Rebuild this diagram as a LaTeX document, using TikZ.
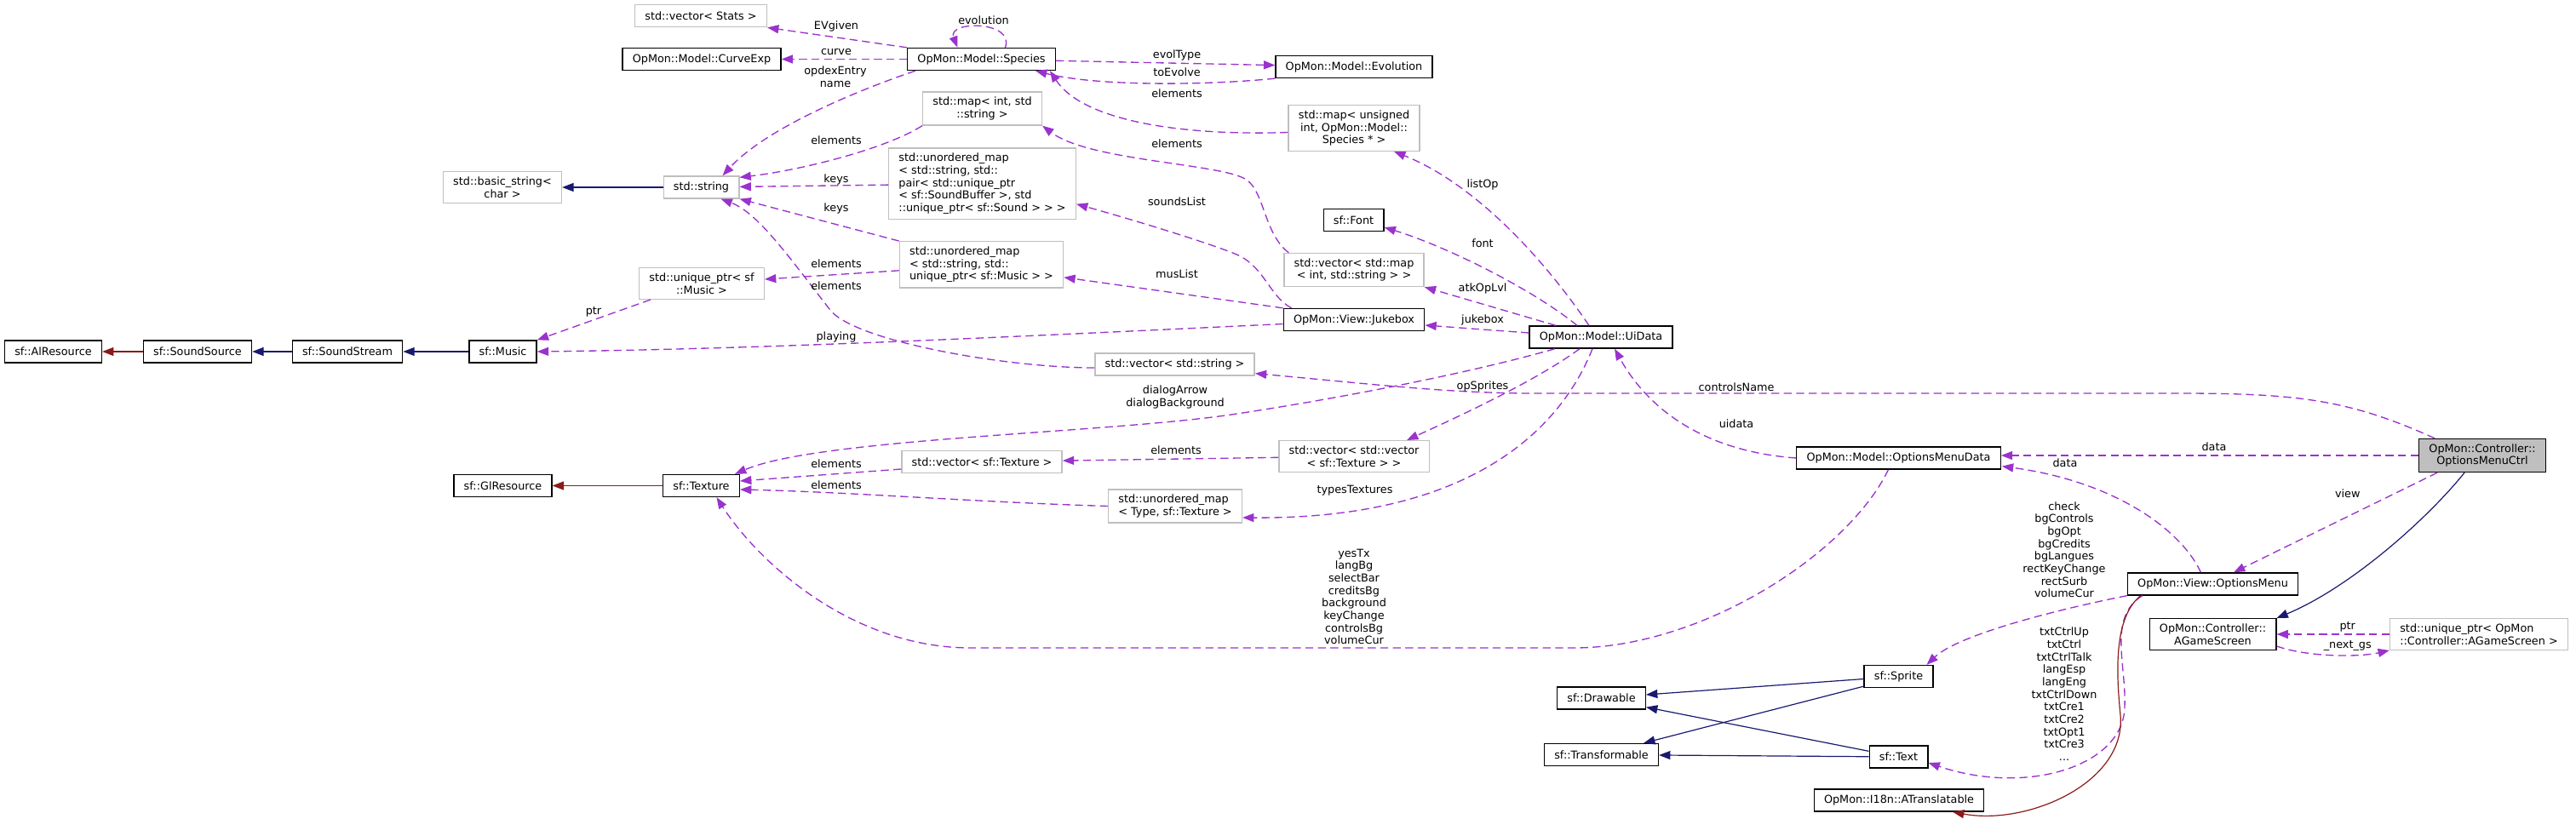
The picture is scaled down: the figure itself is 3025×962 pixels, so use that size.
\documentclass[tikz,border=0pt]{standalone}
\usepackage{fontspec}
\setmainfont{DejaVu Sans}
\usepackage{tikz}
\usetikzlibrary{calc,arrows.meta}

\definecolor{usecol}{HTML}{9A32CD}
\definecolor{pubcol}{HTML}{191970}
\definecolor{privcol}{HTML}{8B1A1A}
\definecolor{boxgray}{HTML}{BFBFBF}
\newcommand{\dfont}{\fontsize{9.6}{11}\selectfont}

\tikzset{
  cls/.style={draw=black,line width=1pt,fill=white,inner xsep=8.8pt,inner ysep=4.5pt,minimum height=19.5pt,font=\dfont},
  ext/.style={cls,draw=boxgray},
  cur/.style={cls,fill=boxgray},
  use/.style={draw=usecol,line width=1pt,dash pattern=on 7pt off 4pt,-{Triangle[length=10pt,width=7.5pt,fill=usecol]}},
  pub/.style={draw=pubcol,line width=0.9pt,-{Triangle[length=10pt,width=7.5pt,fill=pubcol]}},
  priv/.style={draw=privcol,line width=0.9pt,-{Triangle[length=10pt,width=7.5pt,fill=privcol]}},
  lbl/.style={font=\dfont,align=center,inner sep=0pt}
}

\begin{document}
\begin{tikzpicture}[x=0.75pt,y=-0.75pt]
        % \draw[step=100,gray,thin] (0,0) grid (3025,962);
        \useasboundingbox (0,0) rectangle (3025,962);
        \node[ext] (stats) at (823,18.7) {std::vector< Stats >};
        \node[cls] (curve) at (824,69.5) {OpMon::Model::CurveExp};
        \node[cls] (species) at (1152.5,69.5) {OpMon::Model::Species};
        \node[cls] (evolution) at (1590,78.5) {OpMon::Model::Evolution};
        \node[ext,align=center] (mapstr) at (1153.5,127.5) {std::map< int, std\\::string >};
        \node[ext,align=center] (mapsp) at (1590,150.5) {std::map< unsigned\\int, OpMon::Model::\\Species * >};
        \node[ext,align=center] (basic) at (590,220) {std::basic\_string<\\char >};
        \node[ext] (stdstring) at (823.5,220) {std::string};
        \node[ext,align=left] (umsound) at (1153.5,215.7) {std::unordered\_map\\< std::string, std::\\pair< std::unique\_ptr\\< sf::SoundBuffer >, std\\::unique\_ptr< sf::Sound > > >};
        \node[cls] (sffont) at (1589.5,258.5) {sf::Font};
        \node[ext,align=left] (ummusic) at (1152.5,310.8) {std::unordered\_map\\< std::string, std::\\unique\_ptr< sf::Music > >};
        \node[ext,align=center] (vecmap) at (1590,317) {std::vector< std::map\\< int, std::string > >};
        \node[ext,align=center] (uptrmusic) at (824,333) {std::unique\_ptr< sf\\::Music >};
        \node[cls] (jukebox) at (1590,375.5) {OpMon::View::Jukebox};
        \node[cls] (uidata) at (1880,396) {OpMon::Model::UiData};
        \node[cls] (alres) at (62.5,413) {sf::AlResource};
        \node[cls] (soundsource) at (232,413) {sf::SoundSource};
        \node[cls] (soundstream) at (408,413) {sf::SoundStream};
        \node[cls] (music) at (590.5,413) {sf::Music};
        \node[ext] (vecstr) at (1379.5,428) {std::vector< std::string >};
        \node[ext,align=center] (vecvec) at (1590,536) {std::vector< std::vector\\< sf::Texture > >};
        \node[ext] (vectex) at (1153,542.5) {std::vector< sf::Texture >};
        \node[cls] (glres) at (590.5,570.5) {sf::GlResource};
        \node[cls] (texture) at (823.5,570.5) {sf::Texture};
        \node[ext,align=left] (umtype) at (1380,594.5) {std::unordered\_map\\< Type, sf::Texture >};
        \node[cur,align=center] (ctrl) at (2915,535) {OpMon::Controller::\\OptionsMenuCtrl};
        \node[cls] (omdata) at (2229.5,538) {OpMon::Model::OptionsMenuData};
        \node[cls] (omenu) at (2598.5,686) {OpMon::View::OptionsMenu};
        \node[cls,align=center] (agame) at (2598.5,745) {OpMon::Controller::\\AGameScreen};
        \node[ext,align=left] (uptrgame) at (2911,745) {std::unique\_ptr< OpMon\\::Controller::AGameScreen >};
        \node[cls] (sprite) at (2229.5,794.5) {sf::Sprite};
        \node[cls] (drawable) at (1880.5,820) {sf::Drawable};
        \node[cls] (transformable) at (1880.5,886.5) {sf::Transformable};
        \node[cls] (sftext) at (2229.5,889) {sf::Text};
        \node[cls] (atrans) at (2230,940) {OpMon::I18n::ATranslatable};
        % members
        \draw[use] (species.north west) -- (stats.south east);
        \draw[use] ($(species.north)+(28,0)$) .. controls (1192,24) and (1112,24) .. ($(species.north)+(-28,0)$);
        \draw[use] (species) -- (curve);
        \draw[use] ($(species.south west)+(10,0)$) .. controls (1010,105) and (900,150) .. ($(stdstring.north)+(25,0)$);
        \draw[use] (species) -- (evolution);
        \draw[use] (evolution.south west) .. controls (1420,100) and (1290,102) .. ($(species.south east)+(-24,0)$);
        \draw[use] ($(mapsp.west)+(0,5)$) .. controls (1380,160) and (1270,140) .. ($(species.south east)+(-7,0)$);
        \draw[use] (mapstr.south west) .. controls (1040,175) and (940,200) .. ($(stdstring.north east)+(0,2)$);
        \draw[use] (umsound) -- (stdstring);
        \draw[use] (ummusic.north west) -- (stdstring.south east);
        \draw[use] ($(vecstr.west)+(0,4)$) .. controls (1180,432) and (1000,400) .. (974,363) .. controls (925,300) and (890,250) .. ($(stdstring.south)+(23,0)$);
        \draw[use] ($(ummusic.west)+(0,7)$) -- ($(uptrmusic.east)+(0,-5)$);
        \draw[use] ($(uptrmusic.south west)+(14,0)$) -- (music.north east);
        \draw[use] ($(jukebox.west)+(0,5)$) .. controls (1200,395) and (900,410) .. (music.east);
        \draw[use] ($(jukebox.north west)+(10,0)$) .. controls (1490,348) and (1485,312) .. (1450,298) .. controls (1415,284) and (1330,258) .. ($(umsound.east)+(0,24)$);
        \draw[use] (jukebox.north west) -- ($(ummusic.east)+(0,15)$);
        \draw[use] ($(vecmap.north west)+(6,0)$) .. controls (1485,275) and (1485,228) .. (1465,212) .. controls (1440,192) and (1280,190) .. (mapstr.south east);
        \draw[use] ($(uidata.north)+(-14,0)$) .. controls (1810,300) and (1730,215) .. ($(mapsp.south)+(47,0)$);
        \draw[use] ($(uidata.north)+(-28,0)$) .. controls (1800,340) and (1700,290) .. ($(sffont.east)+(0,8.5)$);
        \draw[use] ($(uidata.north)+(-53,0)$) -- (vecmap.south east);
        \draw[use] ($(uidata.west)+(0,-5)$) -- ($(jukebox.east)+(0,6.5)$);
        \draw[use] ($(uidata.south)+(-54,0)$) .. controls (1720,440) and (1560,470) .. (1446,487) .. controls (1296,509) and (960,515) .. ($(texture.north east)+(-6,0)$);
        \draw[use] ($(uidata.south)+(-25,0)$) .. controls (1800,450) and (1700,495) .. ($(vecvec.north)+(62,0)$);
        \draw[use] ($(uidata.south)+(-10,0)$) .. controls (1830,510) and (1720,610) .. ($(umtype.east)+(0,13.5)$);
        \draw[use] ($(vectex.west)+(0,8.5)$) -- ($(texture.east)+(0,-5.5)$);
        \draw[use] (vecvec) -- (vectex);
        \draw[use] (umtype.west) .. controls (1150,590) and (1000,578) .. ($(texture.east)+(0,4.5)$);
        \draw[use] ($(ctrl.north west)+(19,0)$) .. controls (2760,470) and (2700,462) .. (2560,462) -- (1800,462) .. controls (1700,462) and (1600,450) .. ($(vecstr.south east)+(0,-3)$);
        \draw[use] (omdata.west) .. controls (2000,530) and (1935,480) .. ($(uidata.south)+(16,0)$);
        \draw[use] ($(omdata.south)+(-12,0)$) .. controls (2170,650) and (2000,760) .. (1850,761) -- (1140,761) .. controls (1000,761) and (890,660) .. ($(texture.south)+(18,0)$);
        \draw[use] (ctrl.west) -- (omdata.east |- ctrl.west);
        \draw[use] ($(omenu.north)+(-14,0)$) .. controls (2560,620) and (2480,565) .. ($(omdata.south east)+(1,-4)$);
        \draw[use] ($(ctrl.south west)+(22,0)$) -- ($(omenu.north)+(24.5,0)$);
        \draw[use] (uptrgame) -- (agame);
        \draw[use] ($(agame.south east)+(0,-5)$) .. controls (2710,772) and (2770,772) .. (uptrgame.south west);
        \draw[use] (omenu.south west) .. controls (2420,715) and (2300,745) .. ($(sprite.north)+(33,0)$);
        \draw[use] ($(omenu.south west)+(18,0)$) .. controls (2475,725) and (2497,780) .. (2495,830) .. controls (2494,900) and (2380,935) .. ($(sftext.east)+(0,7)$);
        % bases
        \draw[pub] (stdstring) -- (basic);
        \draw[pub] (music) -- (soundstream);
        \draw[pub] (soundstream) -- (soundsource);
        \draw[priv] (soundsource) -- (alres);
        \draw[priv] (texture) -- (glres);
        \draw[pub] ($(ctrl.south)+(-21,0)$) .. controls (2850,610) and (2760,690) .. (agame.north east);
        \draw[priv] ($(omenu.south west)+(16,0)$) .. controls (2482,725) and (2485,790) .. (2490,840) .. controls (2497,920) and (2380,970) .. ($(atrans.south)+(63,0)$);
        \draw[pub] ($(sprite.west)+(0,3)$) -- ($(drawable.east)+(0,-4)$);
        \draw[pub] ($(sprite.south west)+(0,-2)$) -- ($(transformable.north east)+(-18,0)$);
        \draw[pub] ($(sftext.north west)+(0,7)$) -- ($(drawable.south east)+(0,-3)$);
        \draw[pub] (sftext) -- (transformable);
        % edge labels
        \node[lbl] (evgiven) at (982,30.7) {EVgiven};
        \node[lbl] (evolutionlbl) at (1155,23.7) {evolution};
        \node[lbl] (curvelbl) at (982,61) {curve};
        \node[lbl] (opdex) at (981,90) {opdexEntry\\name};
        \node[lbl] (evoltype) at (1382,65) {evolType};
        \node[lbl] (toevolve) at (1382,85) {toEvolve};
        \node[lbl] (elem1) at (1382,110) {elements};
        \node[lbl] (elem2) at (982,164.7) {elements};
        \node[lbl] (elem3) at (1382,169) {elements};
        \node[lbl] (keys1) at (982,210.7) {keys};
        \node[lbl] (keys2) at (982,245.3) {keys};
        \node[lbl] (soundslist) at (1382,237) {soundsList};
        \node[lbl] (listop) at (1741,217) {listOp};
        \node[lbl] (fontlbl) at (1741,286) {font};
        \node[lbl] (elem4) at (982,310) {elements};
        \node[lbl] (elem5) at (982,335.7) {elements};
        \node[lbl] (muslist) at (1382,322) {musList};
        \node[lbl] (atkoplvl) at (1741,338.7) {atkOpLvl};
        \node[lbl] (jukeboxlbl) at (1741,375.7) {jukebox};
        \node[lbl] (playing) at (982,396) {playing};
        \node[lbl] (ptr1) at (697,366.7) {ptr};
        \node[lbl] (opsprites) at (1741,454) {opSprites};
        \node[lbl] (dialog) at (1380,466.5) {dialogArrow\\dialogBackground};
        \node[lbl] (controlsname) at (2039,454.5) {controlsName};
        \node[lbl] (uidatalbl) at (2039,498) {uidata};
        \node[lbl] (elem6) at (1381,528.7) {elements};
        \node[lbl] (elem7) at (982,544.7) {elements};
        \node[lbl] (elem8) at (982,570) {elements};
        \node[lbl] (typestex) at (1591,575.7) {typesTextures};
        \node[lbl] (texlist) at (1590,701) {yesTx\\langBg\\selectBar\\creditsBg\\background\\keyChange\\controlsBg\\volumeCur};
        \node[lbl] (data1) at (2600,524.7) {data};
        \node[lbl] (data2) at (2425,543.7) {data};
        \node[lbl] (view) at (2756.7,579.3) {view};
        \node[lbl] (spritelist) at (2424,645.6) {check\\bgControls\\bgOpt\\bgCredits\\bgLangues\\rectKeyChange\\rectSurb\\volumeCur};
        \node[lbl] (textlist) at (2424,815.4) {txtCtrlUp\\txtCtrl\\txtCtrlTalk\\langEsp\\langEng\\txtCtrlDown\\txtCre1\\txtCre2\\txtOpt1\\txtCre3\\...};
        \node[lbl] (ptr2) at (2756.7,736.7) {ptr};
        \node[lbl] (nextgs) at (2756.7,758.3) {\_next\_gs};
    \end{tikzpicture}
\end{document}
